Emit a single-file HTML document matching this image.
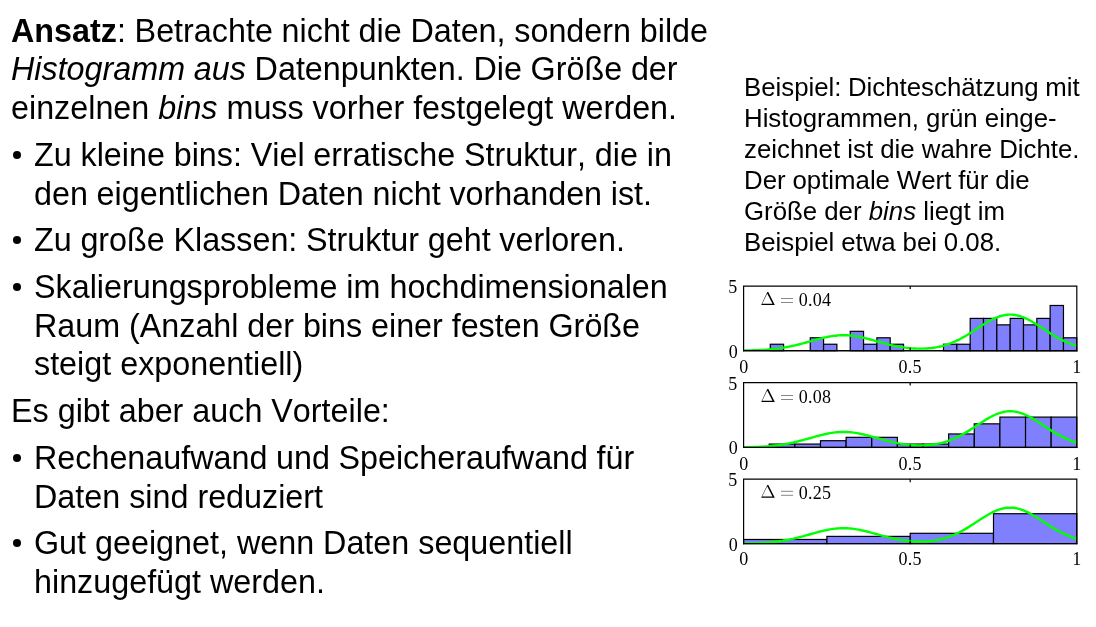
<!DOCTYPE html>
<html><head><meta charset="utf-8"><style>
html,body{margin:0;padding:0;background:#fff;}
body{width:1096px;height:627px;position:relative;overflow:hidden;font-family:"Liberation Sans",sans-serif;color:#000;}
.l,.r{position:absolute;white-space:nowrap;will-change:transform;font-kerning:none;}
.l{font-size:32.3px;line-height:40px;height:40px;transform:scaleY(1.045);transform-origin:0 31px;}
.r{left:744px;font-size:25.8px;line-height:30px;height:30px;}
.bu{position:absolute;left:13px;width:8px;height:8px;border-radius:50%;background:#000;}
svg{position:absolute;left:0;top:0;}
svg text{font-family:"Liberation Serif",serif;font-size:18px;fill:#000;letter-spacing:0.3px;}
</style></head><body>
<div class="l" style="top:11.00px;left:11.2px;word-spacing:-0.23px"><b>Ansatz</b>: Betrachte nicht die Daten, sondern bilde</div>
<div class="l" style="top:49.00px;left:11.2px;word-spacing:-0.24px"><i>Histogramm aus</i> Datenpunkten. Die Größe der</div>
<div class="l" style="top:88.00px;left:11.2px">einzelnen <i>bins</i> muss vorher festgelegt werden.</div>
<div class="l" style="top:135.00px;left:34.2px;word-spacing:-0.17px">Zu kleine bins: Viel erratische Struktur, die in</div>
<div class="bu" style="top:151.10px"></div>
<div class="l" style="top:174.00px;left:34.2px;word-spacing:-0.28px">den eigentlichen Daten nicht vorhanden ist.</div>
<div class="l" style="top:220.00px;left:34.2px;word-spacing:-0.28px">Zu große Klassen: Struktur geht verloren.</div>
<div class="bu" style="top:236.10px"></div>
<div class="l" style="top:267.00px;left:34.2px">Skalierungsprobleme im hochdimensionalen</div>
<div class="bu" style="top:283.10px"></div>
<div class="l" style="top:306.00px;left:34.2px;word-spacing:-0.12px">Raum (Anzahl der bins einer festen Größe</div>
<div class="l" style="top:344.00px;left:34.2px">steigt exponentiell)</div>
<div class="l" style="top:391.00px;left:11.2px">Es gibt aber auch Vorteile:</div>
<div class="l" style="top:438.00px;left:34.2px;word-spacing:-0.40px">Rechenaufwand und Speicheraufwand für</div>
<div class="bu" style="top:454.10px"></div>
<div class="l" style="top:477.00px;left:34.2px">Daten sind reduziert</div>
<div class="l" style="top:523.00px;left:34.2px">Gut geeignet, wenn Daten sequentiell</div>
<div class="bu" style="top:539.10px"></div>
<div class="l" style="top:562.00px;left:34.2px">hinzugefügt werden.</div>
<div class="r" style="top:72.00px;word-spacing:-0.70px">Beispiel: Dichteschätzung mit</div>
<div class="r" style="top:103.00px">Histogrammen, grün einge-</div>
<div class="r" style="top:134.00px">zeichnet ist die wahre Dichte.</div>
<div class="r" style="top:165.00px;word-spacing:-0.28px">Der optimale Wert für die</div>
<div class="r" style="top:196.00px">Größe der <i>bins</i> liegt im</div>
<div class="r" style="top:227.00px;word-spacing:-0.30px">Beispiel etwa bei 0.08.</div>
<svg width="1096" height="627" viewBox="0 0 1096 627">
<rect x="770.26" y="344.24" width="13.33" height="6.46" fill="#8080ff" stroke="#000" stroke-width="1.2"/>
<rect x="810.24" y="337.78" width="13.33" height="12.92" fill="#8080ff" stroke="#000" stroke-width="1.2"/>
<rect x="823.57" y="344.24" width="13.33" height="6.46" fill="#8080ff" stroke="#000" stroke-width="1.2"/>
<rect x="850.22" y="331.32" width="13.33" height="19.38" fill="#8080ff" stroke="#000" stroke-width="1.2"/>
<rect x="863.55" y="344.24" width="13.33" height="6.46" fill="#8080ff" stroke="#000" stroke-width="1.2"/>
<rect x="876.88" y="337.78" width="13.33" height="12.92" fill="#8080ff" stroke="#000" stroke-width="1.2"/>
<rect x="890.21" y="344.24" width="13.33" height="6.46" fill="#8080ff" stroke="#000" stroke-width="1.2"/>
<rect x="943.52" y="344.24" width="13.33" height="6.46" fill="#8080ff" stroke="#000" stroke-width="1.2"/>
<rect x="956.85" y="344.24" width="13.33" height="6.46" fill="#8080ff" stroke="#000" stroke-width="1.2"/>
<rect x="970.18" y="318.40" width="13.33" height="32.30" fill="#8080ff" stroke="#000" stroke-width="1.2"/>
<rect x="983.50" y="318.40" width="13.33" height="32.30" fill="#8080ff" stroke="#000" stroke-width="1.2"/>
<rect x="996.83" y="324.86" width="13.33" height="25.84" fill="#8080ff" stroke="#000" stroke-width="1.2"/>
<rect x="1010.16" y="318.40" width="13.33" height="32.30" fill="#8080ff" stroke="#000" stroke-width="1.2"/>
<rect x="1023.49" y="324.86" width="13.33" height="25.84" fill="#8080ff" stroke="#000" stroke-width="1.2"/>
<rect x="1036.82" y="318.40" width="13.33" height="32.30" fill="#8080ff" stroke="#000" stroke-width="1.2"/>
<rect x="1050.14" y="305.48" width="13.33" height="45.22" fill="#8080ff" stroke="#000" stroke-width="1.2"/>
<rect x="1063.47" y="337.78" width="13.33" height="12.92" fill="#8080ff" stroke="#000" stroke-width="1.2"/>
<clipPath id="c0"><rect x="743.6" y="286.1" width="333.2" height="64.59999999999997"/></clipPath>
<polyline points="743.6,350.53 745.3,350.50 746.9,350.47 748.6,350.43 750.3,350.39 751.9,350.35 753.6,350.30 755.3,350.24 756.9,350.17 758.6,350.10 760.3,350.02 761.9,349.93 763.6,349.83 765.3,349.72 766.9,349.60 768.6,349.47 770.3,349.33 771.9,349.17 773.6,349.00 775.3,348.81 776.9,348.61 778.6,348.39 780.3,348.16 781.9,347.91 783.6,347.64 785.2,347.36 786.9,347.05 788.6,346.74 790.2,346.40 791.9,346.05 793.6,345.68 795.2,345.30 796.9,344.90 798.6,344.48 800.2,344.06 801.9,343.62 803.6,343.17 805.2,342.72 806.9,342.26 808.6,341.79 810.2,341.32 811.9,340.85 813.6,340.39 815.2,339.93 816.9,339.47 818.6,339.03 820.2,338.60 821.9,338.18 823.6,337.78 825.2,337.41 826.9,337.05 828.6,336.73 830.2,336.43 831.9,336.16 833.6,335.92 835.2,335.71 836.9,335.54 838.6,335.41 840.2,335.31 841.9,335.26 843.6,335.24 845.2,335.26 846.9,335.31 848.6,335.41 850.2,335.54 851.9,335.71 853.6,335.92 855.2,336.15 856.9,336.42 858.6,336.72 860.2,337.05 861.9,337.41 863.6,337.78 865.2,338.18 866.9,338.59 868.5,339.02 870.2,339.47 871.9,339.92 873.5,340.38 875.2,340.84 876.9,341.31 878.5,341.78 880.2,342.24 881.9,342.70 883.5,343.15 885.2,343.59 886.9,344.02 888.5,344.44 890.2,344.84 891.9,345.23 893.5,345.60 895.2,345.95 896.9,346.29 898.5,346.60 900.2,346.90 901.9,347.17 903.5,347.42 905.2,347.65 906.9,347.86 908.5,348.05 910.2,348.21 911.9,348.34 913.5,348.46 915.2,348.55 916.9,348.61 918.5,348.65 920.2,348.66 921.9,348.65 923.5,348.60 925.2,348.53 926.9,348.44 928.5,348.31 930.2,348.15 931.9,347.96 933.5,347.73 935.2,347.48 936.9,347.18 938.5,346.86 940.2,346.49 941.9,346.09 943.5,345.65 945.2,345.16 946.9,344.64 948.5,344.07 950.2,343.47 951.8,342.82 953.5,342.13 955.2,341.39 956.8,340.62 958.5,339.81 960.2,338.95 961.8,338.06 963.5,337.13 965.2,336.18 966.8,335.18 968.5,334.17 970.2,333.13 971.8,332.07 973.5,330.99 975.2,329.90 976.8,328.81 978.5,327.72 980.2,326.63 981.8,325.56 983.5,324.50 985.2,323.46 986.8,322.46 988.5,321.49 990.2,320.56 991.8,319.68 993.5,318.86 995.2,318.09 996.8,317.39 998.5,316.76 1000.2,316.21 1001.8,315.73 1003.5,315.33 1005.2,315.02 1006.8,314.80 1008.5,314.66 1010.2,314.62 1011.8,314.66 1013.5,314.80 1015.2,315.02 1016.8,315.33 1018.5,315.73 1020.2,316.21 1021.8,316.76 1023.5,317.39 1025.2,318.09 1026.8,318.86 1028.5,319.68 1030.2,320.56 1031.8,321.49 1033.5,322.46 1035.2,323.47 1036.8,324.50 1038.5,325.56 1040.1,326.64 1041.8,327.72 1043.5,328.82 1045.1,329.91 1046.8,331.00 1048.5,332.08 1050.1,333.14 1051.8,334.18 1053.5,335.20 1055.1,336.19 1056.8,337.16 1058.5,338.09 1060.1,338.99 1061.8,339.85 1063.5,340.67 1065.1,341.45 1066.8,342.19 1068.5,342.90 1070.1,343.56 1071.8,344.18 1073.5,344.77 1075.1,345.31 1076.8,345.82" fill="none" stroke="#00ff00" stroke-width="2.4" stroke-linejoin="round" clip-path="url(#c0)"/>
<path d="M743.6,286.1H1076.8M743.6,286.1V350.7M1076.8,286.1V350.7" fill="none" stroke="#000" stroke-width="1.2" stroke-linecap="square"/>
<path d="M743.0,350.7H1077.3999999999999" stroke="#000" stroke-width="1.4"/>
<path d="M910.20,350.70v-3M910.20,286.10v3" stroke="#000" stroke-width="1.2"/>
<text transform="translate(733.00,292.70) scale(1,1.0)" text-anchor="middle">5</text>
<text transform="translate(733.40,358.10) scale(1,1.0)" text-anchor="middle">0</text>
<text transform="translate(743.80,372.50) scale(1,1.0)" text-anchor="middle">0</text>
<text transform="translate(910.20,372.50) scale(1,1.0)" text-anchor="middle">0.5</text>
<text transform="translate(1077.00,372.50) scale(1,1.0)" text-anchor="middle">1</text>
<path transform="translate(0,0.00)" d="M761.2,304.9 L767.3,292.1 L768.3,292.1 L774.8,304.9 Z M762.2,303.75 L767.2,293.4 L772.5,303.75 Z" fill="#000" fill-rule="evenodd"/>
<path transform="translate(0,0.00)" d="M781,298.5h12M781,302.5h12" stroke="#000" stroke-width="0.48"/>
<text transform="translate(798.70,306.00) scale(1,1.0)" text-anchor="start">0.04</text>
<rect x="769.23" y="444.08" width="25.63" height="3.37" fill="#8080ff" stroke="#000" stroke-width="1.2"/>
<rect x="794.86" y="444.08" width="25.63" height="3.37" fill="#8080ff" stroke="#000" stroke-width="1.2"/>
<rect x="820.49" y="440.71" width="25.63" height="6.74" fill="#8080ff" stroke="#000" stroke-width="1.2"/>
<rect x="846.12" y="437.33" width="25.63" height="10.12" fill="#8080ff" stroke="#000" stroke-width="1.2"/>
<rect x="871.75" y="437.33" width="25.63" height="10.12" fill="#8080ff" stroke="#000" stroke-width="1.2"/>
<rect x="897.38" y="444.08" width="25.63" height="3.37" fill="#8080ff" stroke="#000" stroke-width="1.2"/>
<rect x="923.02" y="444.08" width="25.63" height="3.37" fill="#8080ff" stroke="#000" stroke-width="1.2"/>
<rect x="948.65" y="433.96" width="25.63" height="13.49" fill="#8080ff" stroke="#000" stroke-width="1.2"/>
<rect x="974.28" y="423.84" width="25.63" height="23.61" fill="#8080ff" stroke="#000" stroke-width="1.2"/>
<rect x="999.91" y="417.10" width="25.63" height="30.35" fill="#8080ff" stroke="#000" stroke-width="1.2"/>
<rect x="1025.54" y="417.10" width="25.63" height="30.35" fill="#8080ff" stroke="#000" stroke-width="1.2"/>
<rect x="1051.17" y="417.10" width="25.63" height="30.35" fill="#8080ff" stroke="#000" stroke-width="1.2"/>
<clipPath id="c1"><rect x="743.6" y="382.6" width="333.2" height="64.84999999999997"/></clipPath>
<polyline points="743.6,447.28 745.3,447.25 746.9,447.22 748.6,447.18 750.3,447.14 751.9,447.10 753.6,447.04 755.3,446.99 756.9,446.92 758.6,446.85 760.3,446.77 761.9,446.68 763.6,446.58 765.3,446.47 766.9,446.35 768.6,446.22 770.3,446.07 771.9,445.91 773.6,445.74 775.3,445.55 776.9,445.35 778.6,445.13 780.3,444.90 781.9,444.65 783.6,444.38 785.2,444.09 786.9,443.79 788.6,443.47 790.2,443.13 791.9,442.78 793.6,442.41 795.2,442.02 796.9,441.62 798.6,441.21 800.2,440.78 801.9,440.34 803.6,439.89 805.2,439.44 806.9,438.97 808.6,438.51 810.2,438.03 811.9,437.56 813.6,437.10 815.2,436.63 816.9,436.18 818.6,435.73 820.2,435.30 821.9,434.88 823.6,434.48 825.2,434.11 826.9,433.75 828.6,433.42 830.2,433.12 831.9,432.85 833.6,432.61 835.2,432.40 836.9,432.23 838.6,432.10 840.2,432.00 841.9,431.95 843.6,431.93 845.2,431.95 846.9,432.00 848.6,432.10 850.2,432.23 851.9,432.40 853.6,432.61 855.2,432.85 856.9,433.12 858.6,433.42 860.2,433.75 861.9,434.10 863.6,434.48 865.2,434.88 866.9,435.30 868.5,435.73 870.2,436.17 871.9,436.63 873.5,437.09 875.2,437.55 876.9,438.02 878.5,438.49 880.2,438.96 881.9,439.42 883.5,439.87 885.2,440.31 886.9,440.74 888.5,441.16 890.2,441.57 891.9,441.96 893.5,442.33 895.2,442.69 896.9,443.02 898.5,443.34 900.2,443.63 901.9,443.91 903.5,444.16 905.2,444.39 906.9,444.60 908.5,444.79 910.2,444.95 911.9,445.08 913.5,445.20 915.2,445.29 916.9,445.35 918.5,445.39 920.2,445.40 921.9,445.39 923.5,445.35 925.2,445.28 926.9,445.18 928.5,445.05 930.2,444.89 931.9,444.70 933.5,444.47 935.2,444.21 936.9,443.92 938.5,443.59 940.2,443.23 941.9,442.82 943.5,442.38 945.2,441.89 946.9,441.37 948.5,440.80 950.2,440.19 951.8,439.54 953.5,438.84 955.2,438.11 956.8,437.33 958.5,436.51 960.2,435.66 961.8,434.76 963.5,433.83 965.2,432.87 966.8,431.87 968.5,430.85 970.2,429.81 971.8,428.74 973.5,427.66 975.2,426.57 976.8,425.48 978.5,424.38 980.2,423.29 981.8,422.21 983.5,421.15 985.2,420.11 986.8,419.10 988.5,418.13 990.2,417.20 991.8,416.31 993.5,415.49 995.2,414.72 996.8,414.01 998.5,413.38 1000.2,412.82 1001.8,412.34 1003.5,411.95 1005.2,411.64 1006.8,411.41 1008.5,411.28 1010.2,411.23 1011.8,411.28 1013.5,411.41 1015.2,411.64 1016.8,411.95 1018.5,412.34 1020.2,412.82 1021.8,413.38 1023.5,414.01 1025.2,414.72 1026.8,415.49 1028.5,416.31 1030.2,417.20 1031.8,418.13 1033.5,419.10 1035.2,420.11 1036.8,421.15 1038.5,422.21 1040.1,423.29 1041.8,424.38 1043.5,425.48 1045.1,426.58 1046.8,427.67 1048.5,428.75 1050.1,429.82 1051.8,430.87 1053.5,431.89 1055.1,432.89 1056.8,433.86 1058.5,434.79 1060.1,435.69 1061.8,436.55 1063.5,437.38 1065.1,438.17 1066.8,438.91 1068.5,439.62 1070.1,440.28 1071.8,440.91 1073.5,441.49 1075.1,442.04 1076.8,442.55" fill="none" stroke="#00ff00" stroke-width="2.4" stroke-linejoin="round" clip-path="url(#c1)"/>
<path d="M743.6,382.6H1076.8M743.6,382.6V447.45M1076.8,382.6V447.45" fill="none" stroke="#000" stroke-width="1.2" stroke-linecap="square"/>
<path d="M743.0,447.45H1077.3999999999999" stroke="#000" stroke-width="1.2"/>
<path d="M910.20,447.45v-3M910.20,382.60v3" stroke="#000" stroke-width="1.2"/>
<text transform="translate(733.00,389.70) scale(1,1.0)" text-anchor="middle">5</text>
<text transform="translate(733.40,454.35) scale(1,1.0)" text-anchor="middle">0</text>
<text transform="translate(743.80,470.25) scale(1,1.0)" text-anchor="middle">0</text>
<text transform="translate(910.20,470.25) scale(1,1.0)" text-anchor="middle">0.5</text>
<text transform="translate(1077.00,470.25) scale(1,1.0)" text-anchor="middle">1</text>
<path transform="translate(0,97.00)" d="M761.2,304.9 L767.3,292.1 L768.3,292.1 L774.8,304.9 Z M762.2,303.75 L767.2,293.4 L772.5,303.75 Z" fill="#000" fill-rule="evenodd"/>
<path transform="translate(0,97.00)" d="M781,298.5h12M781,302.5h12" stroke="#000" stroke-width="0.48"/>
<text transform="translate(798.70,403.00) scale(1,1.0)" text-anchor="start">0.08</text>
<rect x="743.60" y="539.48" width="83.30" height="4.12" fill="#8080ff" stroke="#000" stroke-width="1.2"/>
<rect x="826.90" y="536.39" width="83.30" height="7.21" fill="#8080ff" stroke="#000" stroke-width="1.2"/>
<rect x="910.20" y="533.30" width="83.30" height="10.30" fill="#8080ff" stroke="#000" stroke-width="1.2"/>
<rect x="993.50" y="513.72" width="83.30" height="29.88" fill="#8080ff" stroke="#000" stroke-width="1.2"/>
<clipPath id="c2"><rect x="743.6" y="479.2" width="333.2" height="64.40000000000003"/></clipPath>
<polyline points="743.6,543.43 745.3,543.40 746.9,543.37 748.6,543.33 750.3,543.29 751.9,543.25 753.6,543.20 755.3,543.14 756.9,543.08 758.6,543.00 760.3,542.92 761.9,542.83 763.6,542.73 765.3,542.63 766.9,542.51 768.6,542.37 770.3,542.23 771.9,542.07 773.6,541.90 775.3,541.71 776.9,541.51 778.6,541.30 780.3,541.06 781.9,540.82 783.6,540.55 785.2,540.27 786.9,539.97 788.6,539.65 790.2,539.31 791.9,538.96 793.6,538.60 795.2,538.21 796.9,537.81 798.6,537.40 800.2,536.98 801.9,536.54 803.6,536.10 805.2,535.64 806.9,535.18 808.6,534.72 810.2,534.25 811.9,533.78 813.6,533.32 815.2,532.86 816.9,532.41 818.6,531.96 820.2,531.53 821.9,531.12 823.6,530.72 825.2,530.35 826.9,530.00 828.6,529.67 830.2,529.37 831.9,529.10 833.6,528.86 835.2,528.66 836.9,528.49 838.6,528.36 840.2,528.26 841.9,528.20 843.6,528.18 845.2,528.20 846.9,528.26 848.6,528.36 850.2,528.49 851.9,528.66 853.6,528.86 855.2,529.10 856.9,529.37 858.6,529.67 860.2,529.99 861.9,530.35 863.6,530.72 865.2,531.12 866.9,531.53 868.5,531.96 870.2,532.40 871.9,532.85 873.5,533.31 875.2,533.77 876.9,534.24 878.5,534.70 880.2,535.16 881.9,535.62 883.5,536.07 885.2,536.51 886.9,536.94 888.5,537.36 890.2,537.76 891.9,538.15 893.5,538.52 895.2,538.87 896.9,539.20 898.5,539.52 900.2,539.81 901.9,540.08 903.5,540.33 905.2,540.56 906.9,540.77 908.5,540.95 910.2,541.11 911.9,541.25 913.5,541.36 915.2,541.45 916.9,541.52 918.5,541.55 920.2,541.57 921.9,541.55 923.5,541.51 925.2,541.44 926.9,541.34 928.5,541.21 930.2,541.06 931.9,540.87 933.5,540.64 935.2,540.39 936.9,540.10 938.5,539.77 940.2,539.40 941.9,539.00 943.5,538.56 945.2,538.08 946.9,537.56 948.5,536.99 950.2,536.39 951.8,535.74 953.5,535.05 955.2,534.32 956.8,533.55 958.5,532.74 960.2,531.89 961.8,531.00 963.5,530.08 965.2,529.12 966.8,528.13 968.5,527.12 970.2,526.08 971.8,525.02 973.5,523.95 975.2,522.87 976.8,521.78 978.5,520.69 980.2,519.61 981.8,518.53 983.5,517.48 985.2,516.45 986.8,515.45 988.5,514.48 990.2,513.56 991.8,512.68 993.5,511.86 995.2,511.09 996.8,510.40 998.5,509.77 1000.2,509.21 1001.8,508.74 1003.5,508.34 1005.2,508.03 1006.8,507.81 1008.5,507.68 1010.2,507.63 1011.8,507.68 1013.5,507.81 1015.2,508.03 1016.8,508.34 1018.5,508.74 1020.2,509.21 1021.8,509.77 1023.5,510.40 1025.2,511.09 1026.8,511.86 1028.5,512.68 1030.2,513.56 1031.8,514.48 1033.5,515.45 1035.2,516.45 1036.8,517.48 1038.5,518.54 1040.1,519.61 1041.8,520.69 1043.5,521.78 1045.1,522.87 1046.8,523.96 1048.5,525.03 1050.1,526.09 1051.8,527.13 1053.5,528.15 1055.1,529.14 1056.8,530.10 1058.5,531.03 1060.1,531.92 1061.8,532.78 1063.5,533.60 1065.1,534.38 1066.8,535.12 1068.5,535.82 1070.1,536.48 1071.8,537.10 1073.5,537.68 1075.1,538.23 1076.8,538.73" fill="none" stroke="#00ff00" stroke-width="2.4" stroke-linejoin="round" clip-path="url(#c2)"/>
<path d="M743.6,479.2H1076.8M743.6,479.2V543.6M1076.8,479.2V543.6" fill="none" stroke="#000" stroke-width="1.2" stroke-linecap="square"/>
<path d="M743.0,543.6H1077.3999999999999" stroke="#000" stroke-width="1.2"/>
<path d="M910.20,543.60v-3M910.20,479.20v3" stroke="#000" stroke-width="1.2"/>
<text transform="translate(733.00,485.50) scale(1,1.0)" text-anchor="middle">5</text>
<text transform="translate(733.40,551.00) scale(1,1.0)" text-anchor="middle">0</text>
<text transform="translate(743.80,565.40) scale(1,1.0)" text-anchor="middle">0</text>
<text transform="translate(910.20,565.40) scale(1,1.0)" text-anchor="middle">0.5</text>
<text transform="translate(1077.00,565.40) scale(1,1.0)" text-anchor="middle">1</text>
<path transform="translate(0,192.80)" d="M761.2,304.9 L767.3,292.1 L768.3,292.1 L774.8,304.9 Z M762.2,303.75 L767.2,293.4 L772.5,303.75 Z" fill="#000" fill-rule="evenodd"/>
<path transform="translate(0,192.80)" d="M781,298.5h12M781,302.5h12" stroke="#000" stroke-width="0.48"/>
<text transform="translate(798.70,498.80) scale(1,1.0)" text-anchor="start">0.25</text>
</svg>
</body></html>
